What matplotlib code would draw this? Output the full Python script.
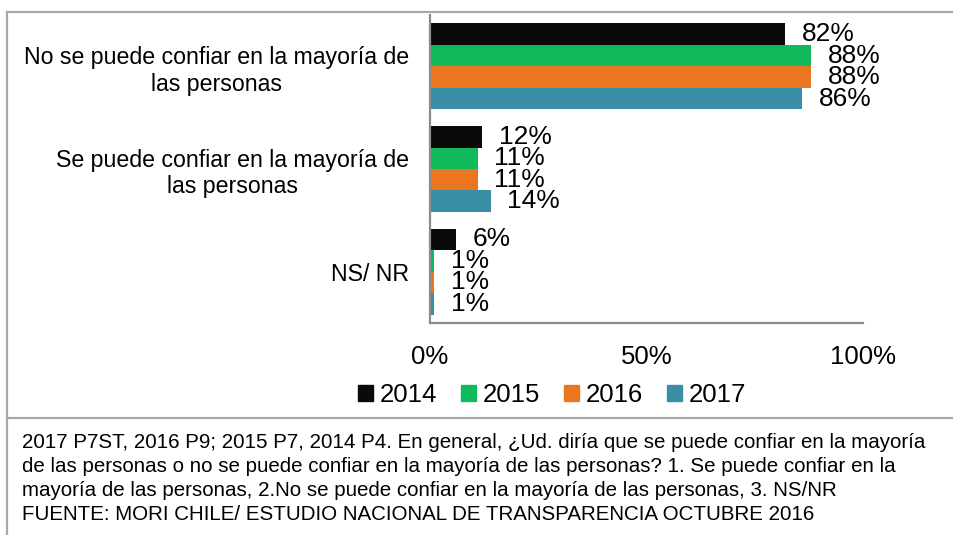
import matplotlib
matplotlib.use("Agg")
import matplotlib.pyplot as plt
from matplotlib.lines import Line2D
from matplotlib.patches import Patch

plt.rcParams['font.family'] = ['Liberation Sans', 'DejaVu Sans']

# Data
categories = ["No se puede confiar en la mayoría de\nlas personas",
              "Se puede confiar en la mayoría de\nlas personas",
              "NS/ NR"]
years = ["2014", "2015", "2016", "2017"]
values = {
    "2014": [82, 12, 6],
    "2015": [88, 11, 1],
    "2016": [88, 11, 1],
    "2017": [86, 14, 1],
}
colors = {"2014": "#0a0a0a", "2015": "#10b95a", "2016": "#ea771f", "2017": "#3a8ea6"}
x_ticks = [0, 50, 100]
x_ticklabels = ["0%", "50%", "100%"]
footnote = ("2017 P7ST, 2016 P9; 2015 P7, 2014 P4. En general, ¿Ud. diría que se puede confiar en la mayoría\n"
            "de las personas o no se puede confiar en la mayoría de las personas? 1. Se puede confiar en la\n"
            "mayoría de las personas, 2.No se puede confiar en la mayoría de las personas, 3. NS/NR\n"
            "FUENTE: MORI CHILE/ ESTUDIO NACIONAL DE TRANSPARENCIA OCTUBRE 2016")

fig = plt.figure(figsize=(9.54, 5.35), dpi=100)
ax = fig.add_axes([430 / 954, 1 - 323 / 535, 433 / 954, 308 / 535])

bar_h = 0.209
for i, yr in enumerate(years):
    for j, v in enumerate(values[yr]):
        y = j + (i - 1.5) * bar_h
        ax.barh(y, v, height=bar_h, color=colors[yr])
        ax.annotate(f"{v}%", (v, y), xytext=(12, 0), textcoords="offset points",
                    va="center", ha="left", fontsize=19)

ax.set_xlim(0, 100)
ax.set_ylim(2.5, -0.5)
ax.set_xticks(x_ticks)
ax.set_xticklabels(x_ticklabels, fontsize=18.5)
ax.set_yticks(range(len(categories)))
ax.set_yticklabels(categories, fontsize=16.7, linespacing=1.22)
for lab in ax.get_yticklabels():
    lab.set_multialignment("center")
ax.tick_params(axis="x", length=0, pad=16)
ax.tick_params(axis="y", length=0, pad=15)
for s in ["top", "right"]:
    ax.spines[s].set_visible(False)
for s in ["left", "bottom"]:
    ax.spines[s].set_color("#8c8c8c")
    ax.spines[s].set_linewidth(1.6)

handles = [Patch(color=colors[yr], label=yr) for yr in years]
fig.legend(handles=handles, loc="center", bbox_to_anchor=(552 / 954, 1 - 395 / 535), ncol=4,
           frameon=False, fontsize=18.5, handlelength=0.58, handleheight=0.55,
           handletextpad=0.27, columnspacing=0.93)

# frame lines
fig.add_artist(Line2D([7 / 954, 1], [1 - 12 / 535, 1 - 12 / 535], color="#a8a8a8", lw=1.6))
fig.add_artist(Line2D([7 / 954, 7 / 954], [0, 1 - 12 / 535], color="#a8a8a8", lw=1.6))
fig.add_artist(Line2D([7 / 954, 1], [1 - 418 / 535, 1 - 418 / 535], color="#a8a8a8", lw=1.6))

fig.text(22 / 954, 1 - 433 / 535, footnote, fontsize=14.8, va="top", ha="left", linespacing=1.33)

fig.savefig("out.png", dpi=100)
